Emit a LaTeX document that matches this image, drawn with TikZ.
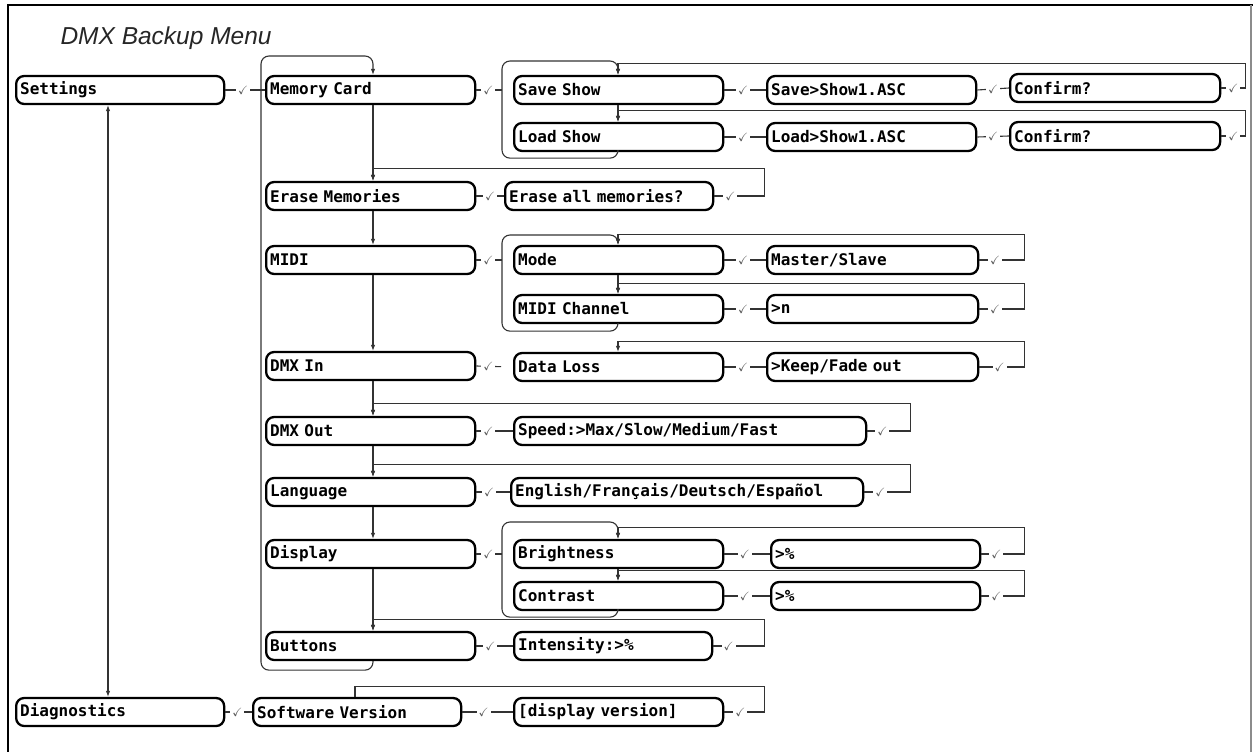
\documentclass[tikz,border=0pt]{standalone}
\usepackage{amssymb}
\usepackage{fontspec}
\setsansfont{Liberation Sans}
\newfontfamily\menufam{DejaVu Sans Mono}[WordSpace={1,0,0}]
\usetikzlibrary{arrows.meta}
\newcommand\ck{$\checkmark$}
\begin{document}
\begin{tikzpicture}[x=1pt,y=-1pt,
  mbox/.style={draw, line width=2.3pt, rounded corners=8pt, minimum height=28pt,
    inner xsep=4pt, inner ysep=0pt, text width=#1, align=left, anchor=west,
    font=\menufam\bfseries\fontsize{16}{16}\selectfont},
  mbox/.default=200pt,
  ln/.style={line width=1.1pt, draw=black!80},
  arr/.style={ln, -{Latex[length=6pt,width=4.5pt]}},
  chk/.style={fill=white, inner sep=2pt, text=black!65, font=\fontsize{12}{12}\selectfont}]
  \useasboundingbox (0,0) rectangle (1253,752);
  \draw[line width=2pt] (8,752) -- (8,5) -- (1253,5);
  \draw[line width=1.5pt, black!45] (1251,5) -- (1251,752);
  \node[anchor=base west, text=black!85, font=\sffamily\itshape\fontsize{24.5}{26}\selectfont] (title) at (57,45) {DMX Backup Menu};
  \coordinate (cd) at (108,0);
  \coordinate (cx) at (373,0);
  \coordinate (cs) at (618,0);
  \coordinate (sw) at (355,0);
  \node[mbox] (setg) at (15,90) {Settings};
  \node[mbox] (diag) at (15,712) {Diagnostics};
  \node[mbox=201pt] (mem) at (265,90) {Memory Card};
  \node[mbox=201pt] (erase) at (265,196) {Erase Memories};
  \node[mbox=201pt] (midi) at (265,260) {MIDI};
  \node[mbox=201pt] (dmxin) at (265,366) {DMX In};
  \node[mbox=201pt] (dmxout) at (265,431) {DMX Out};
  \node[mbox=201pt] (lang) at (265,492) {Language};
  \node[mbox=201pt] (disp) at (265,554) {Display};
  \node[mbox=201pt] (btn) at (265,646) {Buttons};
  \node[mbox] (swv) at (252,712) {Software Version};
  \node[mbox=201pt] (save) at (513,90) {Save Show};
  \node[mbox=201pt] (load) at (513,137) {Load Show};
  \node[mbox] (eall) at (504,196) {Erase all memories?};
  \node[mbox=201pt] (mode) at (513,260) {Mode};
  \node[mbox=201pt] (mch) at (513,309) {MIDI Channel};
  \node[mbox=201pt] (dloss) at (513,367) {Data Loss};
  \node[mbox=344pt] (speed) at (513,431) {Speed:>Max/Slow/Medium/Fast};
  \node[mbox=344pt] (engl) at (510,492) {English/Français/Deutsch/Español};
  \node[mbox=201pt] (bright) at (513,554) {Brightness};
  \node[mbox=201pt] (contr) at (513,596) {Contrast};
  \node[mbox=190pt] (inten) at (513,646) {Intensity:>\%};
  \node[mbox=201pt] (dver) at (513,712) {[display version]};
  \node[mbox=201pt] (savef) at (766,90) {Save>Show1.ASC};
  \node[mbox=201pt] (loadf) at (766,137) {Load>Show1.ASC};
  \node[mbox=203pt] (mast) at (766,260) {Master/Slave};
  \node[mbox=203pt] (nval) at (766,309) {>n};
  \node[mbox=203pt] (keep) at (766,367) {>Keep/Fade out};
  \node[mbox=201pt] (pctb) at (770,554) {>\%};
  \node[mbox=201pt] (pctc) at (770,596) {>\%};
  \node[mbox=202pt] (conf1) at (1009,88) {Confirm?};
  \node[mbox=202pt] (conf2) at (1009,136) {Confirm?};
  % forward steps
  \draw[ln] (setg.east) -- node[chk,pos=.45]{\ck} (mem.west);
  \draw[ln] (diag.east) -- node[chk,pos=.45]{\ck} (swv.west);
  \draw[ln] (swv.east) -- node[chk,pos=.42]{\ck} (dver.west);
  \draw[ln,shorten >=11pt] (mem.east) -- node[chk,pos=.33]{\ck} (save.west);
  \draw[ln] (erase.east) -- node[chk,pos=.5]{\ck} (eall.west);
  \draw[ln,shorten >=11pt] (midi.east) -- node[chk,pos=.33]{\ck} (mode.west);
  \draw[ln,shorten >=12pt] (dmxin.east) -- node[chk,pos=.33]{\ck} (dloss.west);
  \draw[ln] (dmxout.east) -- node[chk,pos=.33]{\ck} (speed.west);
  \draw[ln] (lang.east) -- node[chk,pos=.38]{\ck} (engl.west);
  \draw[ln,shorten >=11pt] (disp.east) -- node[chk,pos=.33]{\ck} (bright.west);
  \draw[ln] (btn.east) -- node[chk,pos=.38]{\ck} (inten.west);
  \draw[ln] (save.east) -- node[chk,pos=.45]{\ck} (savef.west);
  \draw[ln] (load.east) -- node[chk,pos=.45]{\ck} (loadf.west);
  \draw[ln] (savef.east) -- node[chk,pos=.5]{\ck} (conf1.west);
  \draw[ln] (loadf.east) -- node[chk,pos=.5]{\ck} (conf2.west);
  \draw[ln] (mode.east) -- node[chk,pos=.45]{\ck} (mast.west);
  \draw[ln] (mch.east) -- node[chk,pos=.45]{\ck} (nval.west);
  \draw[ln] (dloss.east) -- node[chk,pos=.45]{\ck} (keep.west);
  \draw[ln] (bright.east) -- node[chk,pos=.45]{\ck} (pctb.west);
  \draw[ln] (contr.east) -- node[chk,pos=.45]{\ck} (pctc.west);
  % down the lists
  \draw[ln,{Latex[length=6pt,width=4.5pt]}-{Latex[length=6pt,width=4.5pt]}] (setg.south -| cd) -- (diag.north -| cd);
  \draw[arr] (mem.south -| cx) -- (erase.north -| cx);
  \draw[arr] (erase.south -| cx) -- (midi.north -| cx);
  \draw[arr] (midi.south -| cx) -- (dmxin.north -| cx);
  \draw[arr] (dmxin.south -| cx) -- (dmxout.north -| cx);
  \draw[arr] (dmxout.south -| cx) -- (lang.north -| cx);
  \draw[arr] (lang.south -| cx) -- (disp.north -| cx);
  \draw[arr] (disp.south -| cx) -- (btn.north -| cx);
  \draw[arr] (save.south -| cs) -- (load.north -| cs);
  \draw[arr] (mode.south -| cs) -- (mch.north -| cs);
  \draw[arr] (bright.south -| cs) -- (contr.north -| cs);
  % wrap-around brackets
  \draw[arr,rounded corners=8pt] (btn.south -| cx) -- ++(0,9) -| (261,56) -| (mem.north -| cx);
  \draw[arr,rounded corners=8pt] (load.south -| cs) -- ++(0,6) -| (502,61) -| (save.north -| cs);
  \draw[arr,rounded corners=8pt] (mch.south -| cs) -- ++(0,7) -| (502,235) -| (mode.north -| cs);
  \draw[arr,rounded corners=8pt] (contr.south -| cs) -- ++(0,6) -| (502,522) -| (bright.north -| cs);
  % back to the item
  \draw[arr] (conf1.east) -- node[chk,pos=.5]{\ck} ++(24,0) |- ([yshift=11pt]save.north -| cs) -- (save.north -| cs);
  \draw[arr] (conf2.east) -- node[chk,pos=.5]{\ck} ++(24,0) |- ([yshift=11pt]load.north -| cs) -- (load.north -| cs);
  \draw[arr] (eall.east) -- node[chk,pos=.32]{\ck} ++(50,0) |- ([yshift=12pt]erase.north -| cx) -- (erase.north -| cx);
  \draw[arr] (mast.east) -- node[chk,pos=.35]{\ck} ++(45,0) |- ([yshift=10pt]mode.north -| cs) -- (mode.north -| cs);
  \draw[arr] (nval.east) -- node[chk,pos=.35]{\ck} ++(45,0) |- ([yshift=10pt]mch.north -| cs) -- (mch.north -| cs);
  \draw[arr] (keep.east) -- node[chk,pos=.45]{\ck} ++(45,0) |- ([yshift=10pt]dloss.north -| cs) -- (dloss.north -| cs);
  \draw[arr] (speed.east) -- node[chk,pos=.35]{\ck} ++(43,0) |- ([yshift=12pt]dmxout.north -| cx) -- (dmxout.north -| cx);
  \draw[arr] (engl.east) -- node[chk,pos=.35]{\ck} ++(46,0) |- ([yshift=12pt]lang.north -| cx) -- (lang.north -| cx);
  \draw[arr] (pctb.east) -- node[chk,pos=.35]{\ck} ++(43,0) |- ([yshift=11pt]bright.north -| cs) -- (bright.north -| cs);
  \draw[arr] (pctc.east) -- node[chk,pos=.35]{\ck} ++(43,0) |- ([yshift=10pt]contr.north -| cs) -- (contr.north -| cs);
  \draw[arr] (inten.east) -- node[chk,pos=.3]{\ck} ++(51,0) |- ([yshift=11pt]btn.north -| cx) -- (btn.north -| cx);
  \draw[ln] (dver.east) -- node[chk,pos=.4]{\ck} ++(40,0) |- ([yshift=10pt]swv.north -| sw) -- (swv.north -| sw);
\end{tikzpicture}
\end{document}
